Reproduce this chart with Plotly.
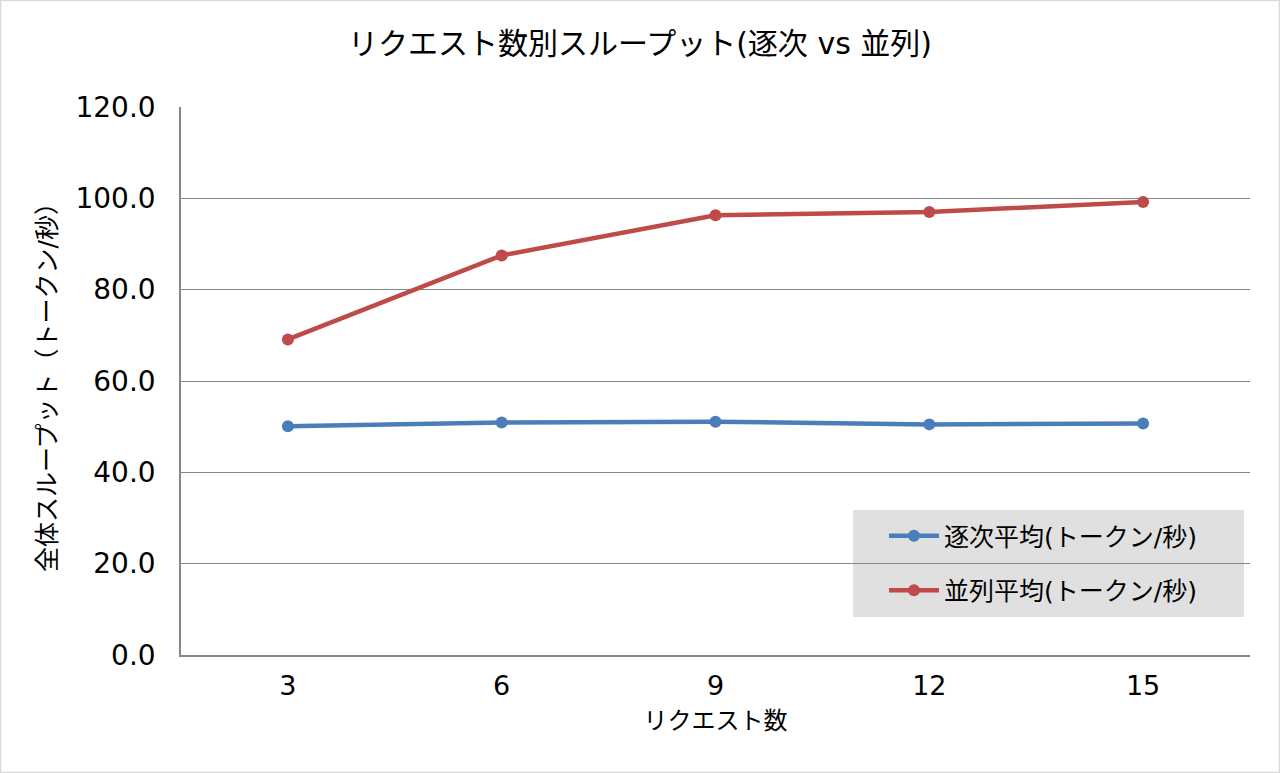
import plotly.graph_objects as go

# データ
requests = ["3", "6", "9", "12", "15"]
sequential = [50.1, 50.9, 51.1, 50.5, 50.7]
parallel = [69.1, 87.5, 96.3, 97.0, 99.2]

FONT = "DejaVu Sans, Noto Sans CJK JP"

# プロット領域 (px)
L, R, T, B = 181, 30, 107, 118
PW, PH = 1280 - L - R, 773 - T - B


def px_x(x):
    return (x - L) / PW


def px_y(y):
    return (773 - B - y) / PH


fig = go.Figure()

fig.add_trace(
    go.Scatter(
        x=requests,
        y=sequential,
        mode="lines+markers",
        name="逐次平均(トークン/秒)",
        line=dict(color="#4A7EBB", width=4.5),
        marker=dict(size=12, color="#4A7EBB"),
        legendgroup="a",
    )
)
fig.add_trace(
    go.Scatter(
        x=requests,
        y=parallel,
        mode="lines+markers",
        name="並列平均(トークン/秒)",
        line=dict(color="#BE4B48", width=4.5),
        marker=dict(size=12, color="#BE4B48"),
        legendgroup="b",
    )
)

fig.update_layout(
    width=1280,
    height=773,
    paper_bgcolor="white",
    plot_bgcolor="rgba(0,0,0,0)",
    font=dict(family=FONT, color="#000000"),
    title=dict(
        text="リクエスト数別スループット(逐次 vs 並列)",
        x=0.5,
        xanchor="center",
        y=1 - 43 / 773,
        yanchor="middle",
        font=dict(size=30, family=FONT),
    ),
    margin=dict(l=L, r=R, t=T, b=B),
    showlegend=True,
    legend=dict(
        x=px_x(884),
        y=px_y(513),
        xanchor="left",
        yanchor="top",
        bgcolor="rgba(0,0,0,0)",
        font=dict(size=25, family=FONT),
        tracegroupgap=19,
        itemwidth=50,
    ),
    shapes=[
        # 外枠
        dict(
            type="rect",
            xref="paper",
            yref="paper",
            x0=px_x(0.5),
            x1=px_x(1279.5),
            y0=px_y(772.5),
            y1=px_y(0.5),
            line=dict(color="#D9D9D9", width=1.5),
            fillcolor="rgba(0,0,0,0)",
            layer="below",
        ),
        # 凡例の背景
        dict(
            type="rect",
            xref="paper",
            yref="paper",
            x0=px_x(853),
            x1=px_x(1244),
            y0=px_y(617),
            y1=px_y(510),
            line=dict(width=0),
            fillcolor="#E0E0E0",
            layer="below",
        ),
    ],
)

fig.update_xaxes(
    type="category",
    range=[-0.5, 4.5],
    title=dict(text="リクエスト数", font=dict(size=24, family=FONT), standoff=12),
    tickfont=dict(size=27, family=FONT),
    ticklabelstandoff=6,
    showline=True,
    linecolor="#868686",
    linewidth=1.5,
    showgrid=False,
    ticks="",
)
fig.update_yaxes(
    range=[0, 120],
    dtick=20,
    tickformat=".1f",
    title=dict(text="全体スループット（トークン/秒）", font=dict(size=25, family=FONT), standoff=12),
    tickfont=dict(size=28, family=FONT),
    ticklabelstandoff=18,
    showline=True,
    linecolor="#868686",
    linewidth=1.5,
    gridcolor="#868686",
    gridwidth=1.2,
    zeroline=False,
    ticks="",
)

fig.write_html(
    "out.html",
    config={"displayModeBar": False},
    post_script="document.body.style.margin='0';",
)
